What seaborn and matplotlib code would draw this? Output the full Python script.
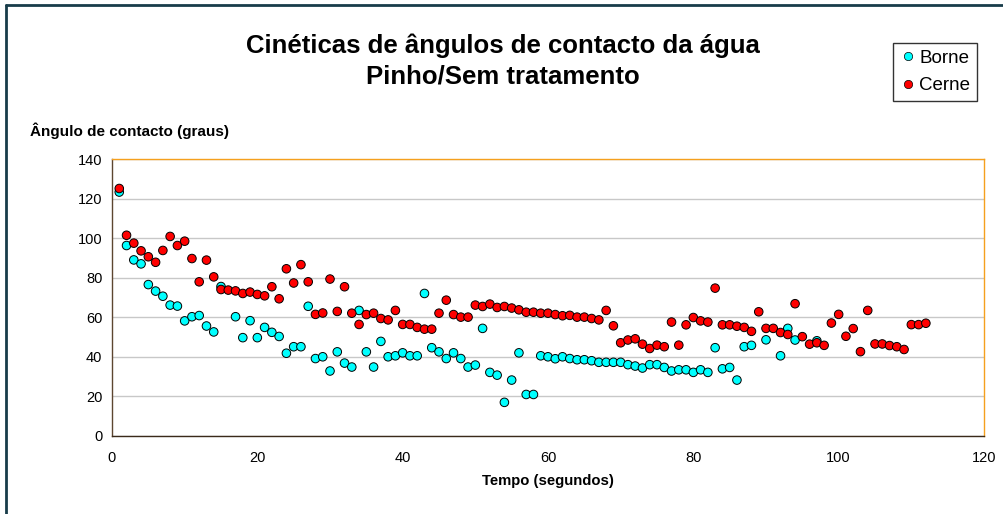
import numpy as np
import pandas as pd
import matplotlib
matplotlib.use("Agg")
import matplotlib.pyplot as plt
from matplotlib.lines import Line2D
import seaborn as sns

# Contact angle kinetics of water on pine (untreated): sapwood (Borne) and heartwood (Cerne)
tempo_borne = [1, 2, 3, 4, 5, 6, 7, 8, 9, 10, 11, 12, 13, 14, 15, 17, 18, 19, 20,
               21, 22, 23, 24, 25, 26, 27, 28, 29, 30, 31, 32, 33, 34, 35, 36, 37,
               38, 39, 40, 41, 42, 43, 44, 45, 46, 47, 48, 49, 50, 51, 52, 53, 54,
               55, 56, 57, 58, 59, 60, 61, 62, 63, 64, 65, 66, 67, 68, 69, 70, 71,
               72, 73, 74, 75, 76, 77, 78, 79, 80, 81, 82, 83, 84, 85, 86, 87, 88,
               90, 92, 93, 94, 97]
angulo_borne = [123.4, 96.3, 89.0, 87.0, 76.5, 73.2, 70.6, 66.1, 65.6, 58.1, 60.2,
                60.8, 55.5, 52.5, 75.5, 60.2, 49.6, 58.2, 49.6, 54.8, 52.3, 50.2,
                41.7, 45.0, 45.0, 65.5, 39.0, 39.9, 32.7, 42.4, 36.7, 34.7, 63.4,
                42.4, 34.7, 47.7, 39.9, 40.4, 41.9, 40.4, 40.4, 72.0, 44.5, 42.4,
                39.0, 41.9, 39.0, 34.7, 35.7, 54.3, 32.0, 30.6, 16.8, 28.1, 41.9,
                20.8, 20.8, 40.4, 39.9, 38.9, 39.9, 39.0, 38.4, 38.4, 37.9, 37.1,
                37.1, 37.1, 37.1, 35.9, 35.2, 34.2, 35.9, 35.9, 34.5, 32.7, 33.3,
                33.3, 32.0, 33.3, 32.0, 44.5, 33.8, 34.5, 28.1, 45.0, 45.7, 48.5,
                40.4, 54.3, 48.4, 48.0]

tempo_cerne = list(range(1, 113))
angulo_cerne = [125.2, 101.5, 97.5, 93.6, 90.6, 87.8, 93.8, 100.9, 96.3, 98.5,
                89.7, 77.9, 88.9, 80.4, 74.0, 73.7, 73.3, 72.0, 72.7, 71.5,
                70.8, 75.4, 69.3, 84.5, 77.3, 86.6, 77.9, 61.4, 62.1, 79.3,
                62.9, 75.4, 62.0, 56.3, 61.3, 62.0, 59.3, 58.6, 63.4, 56.3,
                56.3, 54.8, 53.9, 53.9, 62.0, 68.6, 61.3, 60.0, 60.0, 66.1,
                65.4, 66.6, 64.9, 65.4, 64.6, 63.7, 62.5, 62.5, 62.0, 62.0,
                61.3, 60.7, 60.9, 60.0, 60.0, 59.3, 58.6, 63.4, 55.6, 47.0,
                48.4, 49.0, 46.3, 44.1, 45.8, 45.0, 57.5, 45.8, 56.1, 59.8,
                58.1, 57.5, 74.7, 56.1, 56.1, 55.4, 54.8, 52.8, 62.7, 54.3,
                54.3, 52.2, 51.2, 66.8, 50.1, 46.3, 47.0, 45.7, 57.0, 61.4,
                50.3, 54.2, 42.5, 63.4, 46.4, 46.4, 45.6, 45.0, 43.6, 56.2,
                56.2, 56.9]

series_names = ["Borne", "Cerne"]
series_colors = ["#00FFFF", "#FF0000"]

x_ticks = [0, 20, 40, 60, 80, 100, 120]
y_ticks = [0, 20, 40, 60, 80, 100, 120, 140]

df = pd.concat([
    pd.DataFrame({"Tempo": tempo_borne, "Angulo": angulo_borne, "Serie": "Borne"}),
    pd.DataFrame({"Tempo": tempo_cerne, "Angulo": angulo_cerne, "Serie": "Cerne"}),
], ignore_index=True)

sns.set_theme(style="white")
plt.rcParams["font.family"] = ["Liberation Sans", "DejaVu Sans"]
plt.rcParams["text.color"] = "black"
plt.rcParams["axes.labelcolor"] = "black"

fig = plt.figure(figsize=(10.04, 5.14), dpi=100)
fig.patch.set_facecolor("white")
ax = fig.add_axes([112 / 1004, 78.5 / 514, 872 / 1004, 276.2 / 514])

sns.scatterplot(data=df, x="Tempo", y="Angulo", hue="Serie",
                hue_order=series_names, palette=dict(zip(series_names, series_colors)),
                s=38, edgecolor="black", linewidth=0.7, legend=False, ax=ax, zorder=3)

ax.set_xlim(0, 120)
ax.set_ylim(0, 140)
ax.set_xticks(x_ticks)
ax.set_yticks(y_ticks)
ax.tick_params(axis="both", which="both", direction="inout", length=6, width=0.8,
               color="black", labelsize=10.5, labelcolor="black", pad=4)
ax.tick_params(axis="x", pad=8)
ax.grid(axis="y", color="#C8C8C8", linewidth=1.0, zorder=0)
ax.grid(axis="x", visible=False)
ax.set_axisbelow(True)

ax.spines["left"].set_color("#5C4630")
ax.spines["bottom"].set_color("#3A2A1A")
ax.spines["top"].set_color("#F5A01E")
ax.spines["right"].set_color("#F5A01E")
for sp in ax.spines.values():
    sp.set_linewidth(1.0)

ax.set_xlabel("Tempo (segundos)", fontsize=10.7, fontweight="bold", labelpad=7,
              color="black")
ax.set_ylabel("")

fig.text(30 / 1004, 1 - 131 / 514, "Ângulo de contacto (graus)", fontsize=11,
         fontweight="bold", ha="left", va="center", color="black")
fig.text(503 / 1004, 1 - 46 / 514, "Cinéticas de ângulos de contacto da água",
         fontsize=18.5, fontweight="bold", ha="center", va="center", color="black")
fig.text(503 / 1004, 1 - 77 / 514, "Pinho/Sem tratamento",
         fontsize=18.5, fontweight="bold", ha="center", va="center", color="black")

handles = [Line2D([], [], linestyle="none", marker="o", markersize=6,
                  markerfacecolor=c, markeredgecolor="black", markeredgewidth=0.5)
           for c in series_colors]
leg = fig.legend(handles, series_names, loc="upper right",
                 bbox_to_anchor=(977 / 1004, 1 - 43 / 514), fontsize=13.5,
                 frameon=True, fancybox=False, borderpad=0.35, handletextpad=0.15,
                 handlelength=0.9, labelspacing=0.55, borderaxespad=0)
leg.get_frame().set_edgecolor("black")
leg.get_frame().set_linewidth(1.0)
for t in leg.get_texts():
    t.set_color("black")

# outer chart border (left and top edges)
fig.add_artist(Line2D([6 / 1004, 6 / 1004], [0, 1 - 5 / 514], transform=fig.transFigure,
                      color="#183C4A", linewidth=2))
fig.add_artist(Line2D([6 / 1004, 1], [1 - 5 / 514, 1 - 5 / 514], transform=fig.transFigure,
                      color="#183C4A", linewidth=2))

fig.savefig("out.png", dpi=100, facecolor="white")
